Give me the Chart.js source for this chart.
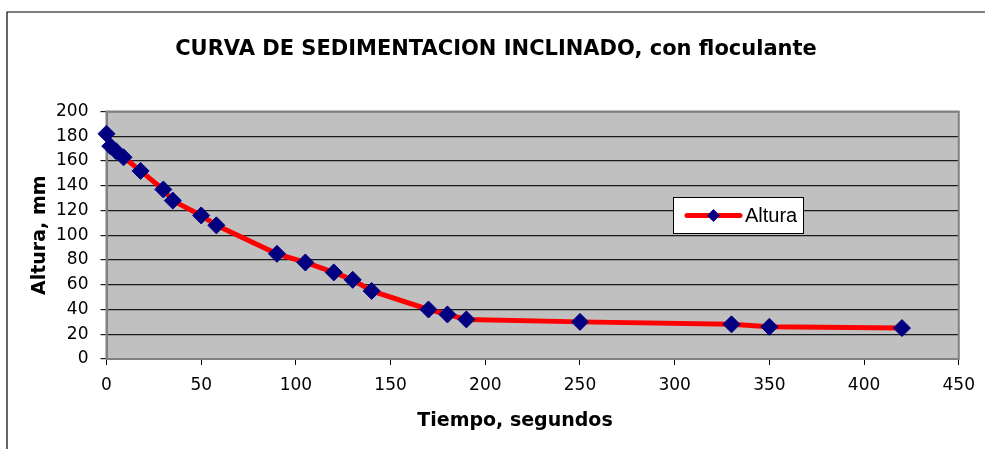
<!DOCTYPE html>
<html>
<head>
<meta charset="utf-8">
<title>Curva de sedimentación</title>
<script src="https://cdn.jsdelivr.net/npm/chart.js@4.4.0/dist/chart.umd.min.js"></script>
<style>
  html, body { margin: 0; padding: 0; background: #ffffff; }
  canvas { display: block; }
</style>
</head>
<body>
<canvas id="curva" width="985" height="449"></canvas>
<script>
// Ensayo de sedimentación en probeta inclinada, con floculante
const tiempoSeg = [0, 2, 5, 9, 18, 30, 35, 50, 58, 90, 105, 120, 130, 140, 170, 180, 190, 250, 330, 350, 420];
const alturaMm  = [182, 172, 168, 163, 152, 137, 128, 116, 108, 85, 78, 70, 64, 55, 40, 36, 32, 30, 28, 26, 25];

const serieNombre = 'Altura';
const tituloGrafico = 'CURVA DE SEDIMENTACION INCLINADO, con floculante';
const tituloEjeX = 'Tiempo, segundos';
const tituloEjeY = 'Altura, mm';

// Escalas de los ejes: [mínimo, máximo, paso]
const ejeX = [0, 450, 50];
const ejeY = [0, 200, 20];

const FUENTE = "'DejaVu Sans', sans-serif";
const FUENTE_LEYENDA = "'Liberation Sans', Arial, sans-serif";

const puntos = tiempoSeg.map((t, i) => ({ x: t, y: alturaMm[i] }));

// Marco exterior, fondo gris del área de trazado y su borde
const marcoPlugin = {
  id: 'marco',
  beforeDraw(chart) {
    const { ctx, chartArea: a } = chart;
    ctx.save();
    ctx.fillStyle = '#ffffff';
    ctx.fillRect(0, 0, chart.width, chart.height);
    ctx.strokeStyle = '#000000';
    ctx.lineWidth = 1.2;
    ctx.beginPath();
    ctx.moveTo(7, chart.height);
    ctx.lineTo(7, 12);
    ctx.lineTo(chart.width, 12);
    ctx.stroke();
    ctx.fillStyle = '#c0c0c0';
    ctx.fillRect(a.left, a.top, a.right - a.left, a.bottom - a.top);
    ctx.restore();
  },
  beforeDatasetsDraw(chart) {
    const { ctx, chartArea: a } = chart;
    ctx.save();
    ctx.strokeStyle = '#808080';
    ctx.lineWidth = 2;
    ctx.strokeRect(a.left, a.top, a.right - a.left, a.bottom - a.top);
    ctx.restore();
  }
};

// Título general, título del eje X y cuadro de leyenda
const textosPlugin = {
  id: 'textos',
  afterDraw(chart) {
    const { ctx } = chart;
    const ds = chart.data.datasets[0];
    ctx.save();
    ctx.fillStyle = '#000000';
    ctx.textAlign = 'center';
    ctx.textBaseline = 'middle';
    ctx.font = "bold 21px " + FUENTE;
    ctx.fillText(tituloGrafico, 496, 50);
    ctx.font = "bold 19px " + FUENTE;
    ctx.fillText(tituloEjeX, 515, 421);

    // leyenda
    const bx = 673.5, by = 197.5, bw = 130, bh = 36;
    ctx.fillStyle = '#ffffff';
    ctx.fillRect(bx, by, bw, bh);
    ctx.strokeStyle = '#000000';
    ctx.lineWidth = 1;
    ctx.strokeRect(bx, by, bw, bh);
    const ly = by + bh / 2;
    ctx.strokeStyle = ds.borderColor;
    ctx.lineWidth = 5;
    ctx.lineCap = 'round';
    ctx.beginPath();
    ctx.moveTo(687, ly);
    ctx.lineTo(740, ly);
    ctx.stroke();
    ctx.fillStyle = ds.pointBackgroundColor;
    ctx.beginPath();
    ctx.moveTo(713.5, ly - 6.5);
    ctx.lineTo(720, ly);
    ctx.lineTo(713.5, ly + 6.5);
    ctx.lineTo(707, ly);
    ctx.closePath();
    ctx.fill();
    ctx.fillStyle = '#000000';
    ctx.font = "20px " + FUENTE_LEYENDA;
    ctx.textAlign = 'left';
    ctx.fillText(ds.label, 745, ly + 1);
    ctx.restore();
  }
};

new Chart(document.getElementById('curva'), {
  type: 'line',
  data: {
    datasets: [{
      label: serieNombre,
      data: puntos,
      borderColor: '#ff0000',
      borderWidth: 5,
      tension: 0,
      pointStyle: 'rectRot',
      pointRadius: 8.5,
      pointHoverRadius: 8.5,
      pointBackgroundColor: '#000080',
      pointBorderColor: '#000080',
      pointBorderWidth: 1,
      clip: false
    }]
  },
  options: {
    responsive: false,
    animation: false,
    events: [],
    layout: { padding: { top: 111.5, left: 0, right: 23.5, bottom: 0 } },
    plugins: {
      legend: { display: false },
      tooltip: { enabled: false },
      title: { display: false }
    },
    scales: {
      x: {
        type: 'linear',
        min: ejeX[0], max: ejeX[1],
        afterFit(s) { s.height = 90; },
        ticks: {
          stepSize: ejeX[2], color: '#000000', padding: 10,
          font: { family: FUENTE, size: 17 }
        },
        grid: { drawOnChartArea: false, drawTicks: true, tickLength: 6, color: '#000000', lineWidth: 1 },
        border: { display: true, color: '#808080', width: 2 }
      },
      y: {
        type: 'linear',
        min: ejeY[0], max: ejeY[1],
        afterFit(s) { s.width = 106.5; },
        ticks: {
          stepSize: ejeY[2], color: '#000000', padding: 12,
          font: { family: FUENTE, size: 17 }
        },
        grid: { drawOnChartArea: true, drawTicks: true, tickLength: 6, color: '#1a1a1a', lineWidth: 1.2 },
        border: { display: true, color: '#808080', width: 2 },
        title: {
          display: true, text: tituloEjeY, color: '#000000',
          font: { family: FUENTE, size: 19, weight: 'bold', lineHeight: 1.2 },
          padding: { top: 28.6, bottom: 0 }
        }
      }
    }
  },
  plugins: [marcoPlugin, textosPlugin]
});
</script>
</body>
</html>
